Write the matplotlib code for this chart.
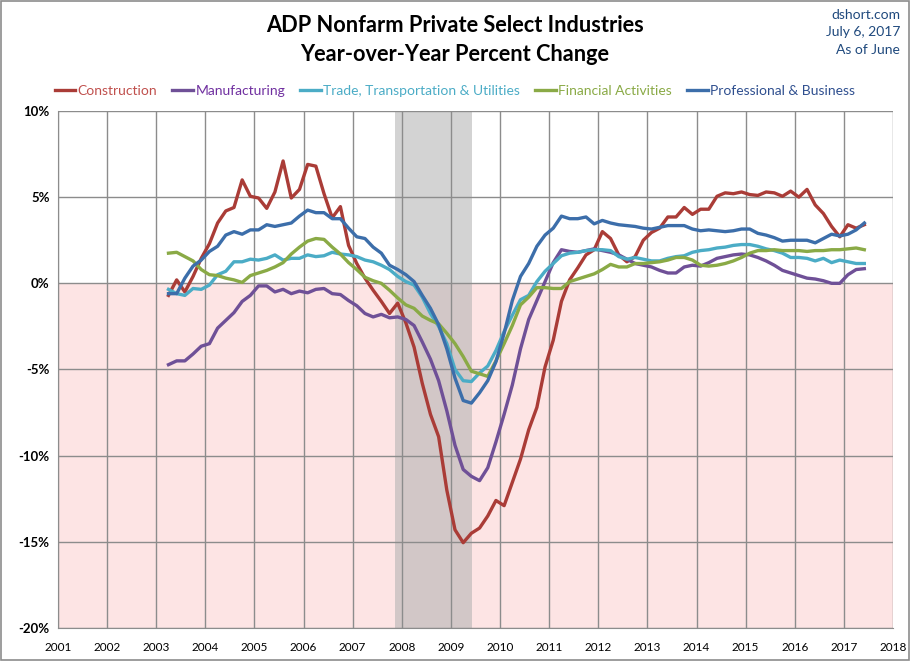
import matplotlib

matplotlib.use("Agg")
import matplotlib.pyplot as plt
import pandas as pd
from matplotlib.patches import Rectangle
from matplotlib.ticker import FuncFormatter, MultipleLocator

# bimonthly readings, Apr 2003 .. Jun 2017
dates = pd.date_range("2003-04-01", "2017-06-01", freq="2MS")

construction = [
    -0.7, 0.2, -0.5, 0.4, 1.45,
    2.3, 3.5, 4.2, 4.4, 6.0, 5.05,
    4.95, 4.35, 5.3, 7.1, 4.95, 5.45,
    6.9, 6.8, 5.2, 3.8, 4.45, 2.2,
    1.15, 0.3, -0.4, -1.05, -1.75, -1.15,
    -2.3, -3.7, -5.8, -7.6, -8.9, -12.0,
    -14.3, -15.05, -14.5, -14.2, -13.5, -12.6,
    -12.9, -11.55, -10.2, -8.5, -7.2, -4.85,
    -3.3, -1.05, 0.2, 0.9, 1.65, 1.95,
    3.0, 2.6, 1.65, 1.25, 1.55, 2.5,
    2.95, 3.2, 3.85, 3.85, 4.4, 4.0,
    4.3, 4.3, 5.05, 5.25, 5.2, 5.3,
    5.15, 5.1, 5.3, 5.25, 5.05, 5.35,
    5.0, 5.45, 4.55, 4.05, 3.3, 2.7,
    3.4, 3.2, 3.4,
]

manufacturing = [
    -4.72, -4.5, -4.5, -4.1, -3.65,
    -3.5, -2.6, -2.15, -1.7, -1.05, -0.7,
    -0.15, -0.15, -0.5, -0.35, -0.6, -0.45,
    -0.55, -0.35, -0.3, -0.6, -0.65, -1.0,
    -1.3, -1.75, -1.95, -1.8, -2.0, -1.95,
    -2.1, -2.45, -3.4, -4.4, -5.65, -7.4,
    -9.4, -10.8, -11.2, -11.45, -10.7, -9.2,
    -7.6, -5.9, -3.8, -2.1, -1.0, 0.1,
    1.2, 1.95, 1.85, 1.8, 1.9, 2.0,
    1.9, 1.8, 1.65, 1.4, 1.15, 1.05,
    0.95, 0.75, 0.6, 0.6, 0.95, 1.05,
    1.0, 1.2, 1.45, 1.55, 1.65, 1.7,
    1.65, 1.5, 1.3, 1.05, 0.75, 0.6,
    0.45, 0.3, 0.25, 0.15, 0.0, 0.0,
    0.5, 0.8, 0.85,
]

trade = [
    -0.35, -0.6, -0.7, -0.3, -0.35,
    -0.1, 0.5, 0.7, 1.25, 1.25, 1.4,
    1.35, 1.45, 1.65, 1.35, 1.45, 1.45,
    1.65, 1.55, 1.6, 1.8, 1.7, 1.65,
    1.55, 1.35, 1.25, 1.05, 0.8, 0.4,
    0.1, -0.1, -0.8, -1.75, -2.5, -3.5,
    -5.0, -5.65, -5.7, -5.2, -4.8, -3.9,
    -2.8, -1.85, -0.95, -0.7, 0.1, 0.7,
    1.15, 1.6, 1.75, 1.8, 1.9, 1.95,
    1.95, 1.9, 1.55, 1.4, 1.5, 1.4,
    1.3, 1.3, 1.45, 1.55, 1.6, 1.8,
    1.9, 1.95, 2.05, 2.1, 2.2, 2.25,
    2.25, 2.15, 2.0, 1.9, 1.75, 1.5,
    1.5, 1.45, 1.3, 1.45, 1.2, 1.35,
    1.25, 1.15, 1.15,
]

financial = [
    1.75, 1.8, 1.55, 1.3, 0.8,
    0.5, 0.45, 0.3, 0.2, 0.05, 0.45,
    0.6, 0.75, 0.95, 1.2, 1.7, 2.1,
    2.45, 2.6, 2.55, 2.1, 1.7, 1.2,
    0.8, 0.35, 0.15, 0.0, -0.4, -0.85,
    -1.25, -1.45, -1.9, -2.15, -2.35, -2.9,
    -3.5, -4.25, -5.1, -5.25, -5.4, -4.5,
    -3.5, -2.45, -1.25, -0.8, -0.25, -0.25,
    -0.3, -0.3, 0.1, 0.25, 0.4, 0.55,
    0.8, 1.1, 0.95, 0.95, 1.15, 1.15,
    1.2, 1.25, 1.35, 1.5, 1.5, 1.35,
    1.05, 1.0, 1.05, 1.15, 1.3, 1.5,
    1.75, 1.9, 1.9, 1.95, 1.9, 1.9,
    1.9, 1.85, 1.9, 1.9, 1.95, 1.95,
    2.0, 2.05, 1.95,
]

professional = [
    -0.6, -0.6, 0.3, 1.0, 1.35,
    1.85, 2.15, 2.8, 3.0, 2.85, 3.1,
    3.1, 3.4, 3.3, 3.4, 3.5, 3.9,
    4.25, 4.1, 4.1, 3.75, 3.75, 3.2,
    2.7, 2.6, 2.1, 1.75, 1.05, 0.8,
    0.5, 0.1, -0.7, -1.45, -2.4, -3.8,
    -5.5, -6.8, -6.95, -6.35, -5.65, -4.55,
    -2.9, -1.0, 0.4, 1.15, 2.15, 2.8,
    3.2, 3.9, 3.75, 3.75, 3.85, 3.45,
    3.65, 3.5, 3.4, 3.35, 3.3, 3.2,
    3.15, 3.25, 3.35, 3.35, 3.35, 3.15,
    3.05, 3.1, 3.05, 3.0, 3.05, 3.15,
    3.15, 2.9, 2.8, 2.65, 2.45, 2.5,
    2.5, 2.5, 2.35, 2.6, 2.85, 2.75,
    2.85, 3.1, 3.5,
]

series_names = [
    "Construction",
    "Manufacturing",
    "Trade, Transportation & Utilities",
    "Financial Activities",
    "Professional & Business",
]
series_colors = ["#AA3C37", "#6F5097", "#4BACC6", "#8AAA46", "#3C6EAA"]
label_colors = ["#C0504D", "#7030A0", "#4BACC6", "#8AAA46", "#2F4F8F"]

recession = (2007.87, 2009.42)
year_ticks = list(range(2001, 2019))

plt.rcParams["font.family"] = ["Lato", "DejaVu Sans"]

x = dates.year + (dates.month - 1) / 12

fig = plt.figure(figsize=(9.1, 6.61), dpi=100)
ax = fig.add_axes([0.0637, 0.0499, 0.9176, 0.7822])

ax.set_xlim(2001, 2018)
ax.set_ylim(-20, 10)

# red zone below zero and recession band
ax.add_patch(Rectangle((2001, -20), 17, 20, color="#FDE4E4", lw=0, zorder=0.1))
ax.axvspan(*recession, color="#B0B0B0", alpha=0.55, lw=0, zorder=0.2)

for vals, name, color in zip(
    [construction, manufacturing, trade, financial, professional],
    series_names,
    series_colors,
    strict=True,
):
    ax.plot(x, vals, color=color, lw=2.4, label=name, zorder=3,
            solid_joinstyle="round")

ax.set_axisbelow(True)
ax.grid(visible=True, color="#8C8C8C", lw=1.0)
ax.set_xticks(year_ticks)
ax.yaxis.set_major_locator(MultipleLocator(5))
ax.yaxis.set_major_formatter(FuncFormatter(lambda v, _: f"{v:.0f}%"))
ax.tick_params(axis="y", length=0, labelsize=9.5, pad=6)
ax.tick_params(axis="x", length=0, labelsize=8.5, pad=10)
for lbl in ax.get_yticklabels():
    lbl.set_fontweight("bold")

for side in ["top", "right"]:
    ax.spines[side].set_visible(False)
ax.spines["left"].set_color("#8C8C8C")
ax.spines["bottom"].set_color("#8C8C8C")

fig.text(0.5, 0.962, "ADP Nonfarm Private Select Industries", ha="center",
         va="center", fontsize=15.7, fontweight="bold")
fig.text(0.5, 0.918, "Year-over-Year Percent Change", ha="center",
         va="center", fontsize=15.7, fontweight="bold")

for i, line in enumerate(["dshort.com", "July 6, 2017", "As of June"]):
    fig.text(0.989, 0.978 - i * 0.027, line, ha="right", va="center",
             fontsize=10, color="#1F497D")

leg = fig.legend(
    loc="center",
    bbox_to_anchor=(0.5, 0.862),
    ncol=5,
    frameon=False,
    fontsize=10,
    handlelength=1.5,
    handletextpad=0.15,
    columnspacing=1.1,
)
for text, color in zip(leg.get_texts(), label_colors, strict=True):
    text.set_color(color)

fig.add_artist(Rectangle((0.001, 0.001), 0.998, 0.997, transform=fig.transFigure,
                         fill=False, edgecolor="#8C8C8C", lw=1.2))

fig.savefig("out.png", dpi=100)
plt.close(fig)
